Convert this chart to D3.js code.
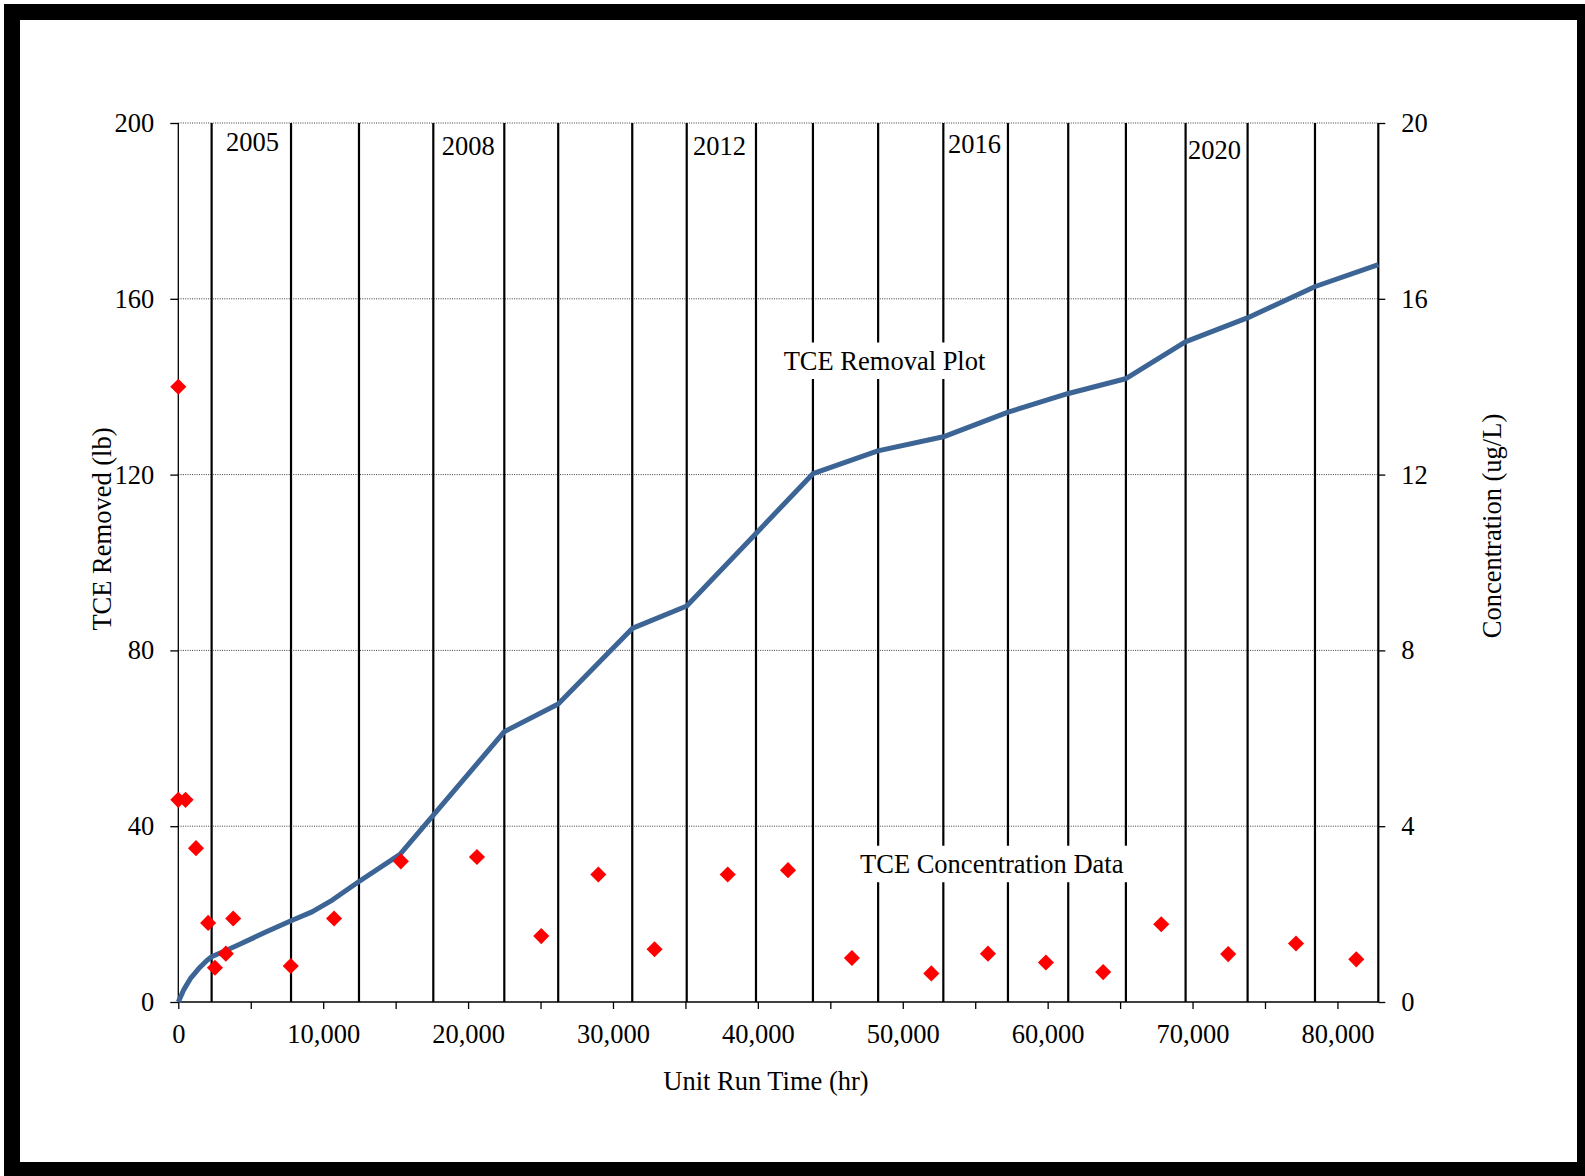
<!DOCTYPE html>
<html>
<head>
<meta charset="utf-8">
<script src="https://cdn.jsdelivr.net/npm/d3@7"></script>
<style>
  html, body { margin: 0; padding: 0; background: #ffffff; }
  svg { display: block; }
  text { font-family: "Liberation Serif", "Times New Roman", serif; fill: #000; }
</style>
</head>
<body>
<svg id="chart" width="1585" height="1176"></svg>
<script>
// Cumulative TCE removed (lb) against unit run time (hr)
const runHours = [0, 360, 830, 1410, 1990, 2300, 3280, 4090, 5960, 7780, 9230, 10630, 12420,
  15300, 22500, 26220, 31330, 35090, 43800, 48280, 52800, 57270, 61370, 65370, 69500, 73820, 78470, 82820];
const tceRemoved = [0, 2.7, 5.3, 7.6, 9.5, 10.3, 11.7, 12.9, 15.8, 18.5, 20.5, 23.2, 27.3,
  33.6, 61.5, 67.8, 85.0, 90.1, 120.2, 125.4, 128.6, 134.2, 138.4, 141.8, 150.2, 155.7, 162.8, 167.8];

// TCE concentration samples (ug/L)
const sampleHours = [0, 0, 500, 1220, 2060, 2530, 3280, 3790, 7760, 10750, 15360, 20610, 25050,
  28990, 32870, 37920, 42080, 46490, 51970, 55880, 59880, 63830, 67840, 72460, 77140, 81300];
const tceConc = [14.0, 4.6, 4.6, 3.5, 1.8, 0.78, 1.1, 1.9, 0.82, 1.9, 3.2, 3.3, 1.5,
  2.9, 1.2, 2.9, 3.0, 1.0, 0.65, 1.1, 0.9, 0.68, 1.77, 1.09, 1.33, 0.97];

// Run-time markers drawn as vertical dividers
const dividerHours = [2300, 7780, 12470, 17600, 22500, 26220, 31330, 35090, 39870, 43800,
  48300, 52800, 57260, 61420, 65400, 69520, 73800, 78450];

// Axis ticks
const leftTicks = [0, 40, 80, 120, 160, 200];
const rightTicks = [0, 4, 8, 12, 16, 20];
const xTicks = d3.range(0, 80001, 5000);
const xLabelStep = 10000;

// Year annotations (hours, lb)
const yearLabels = ["2005", "2008", "2012", "2016", "2020"];
const yearHours = [3290, 18180, 35520, 53120, 69680];
const yearLevel = [193.7, 192.7, 192.7, 193.2, 191.9];

// Series annotations (hours, lb)
const noteLabels = ["TCE Removal Plot", "TCE Concentration Data"];
const noteHours = [41780, 47050];
const noteLevel = [143.8, 29.3];

const axisTitles = { x: "Unit Run Time (hr)", left: "TCE Removed (lb)", right: "Concentration (ug/L)" };

const FONT = 26.5;
const svg = d3.select("#chart");

// Frame
svg.append("rect").attr("x", 0).attr("y", 0).attr("width", 1585).attr("height", 1176).attr("fill", "#fff");
svg.append("rect").attr("x", 12).attr("y", 12).attr("width", 1573).attr("height", 1158)
  .attr("fill", "none").attr("stroke", "#000").attr("stroke-width", 16);

const plot = { left: 178.3, right: 1378.3, top: 123, bottom: 1002 };

const x = d3.scaleLinear().domain([0, 82820]).range([plot.left, plot.right]);
const yL = d3.scaleLinear().domain([0, 200]).range([plot.bottom, plot.top]);
const yR = d3.scaleLinear().domain([0, 20]).range([plot.bottom, plot.top]);

// Dotted horizontal gridlines
svg.append("g").selectAll("line").data(leftTicks.filter(d => d > 0)).join("line")
  .attr("x1", plot.left).attr("x2", plot.right)
  .attr("y1", d => yL(d)).attr("y2", d => yL(d))
  .attr("stroke", "#3a3a3a").attr("stroke-width", 1).attr("stroke-dasharray", "1,1.3");

// Vertical dividers
svg.append("g").selectAll("line").data(dividerHours).join("line")
  .attr("x1", d => x(d)).attr("x2", d => x(d))
  .attr("y1", plot.top).attr("y2", plot.bottom)
  .attr("stroke", "#000").attr("stroke-width", 2.2);

// Axes
const axisLeft = d3.axisLeft(yL).tickValues(leftTicks).tickSize(8).tickPadding(16).tickFormat(d3.format("d"));
const gL = svg.append("g").attr("transform", `translate(${plot.left},0)`).call(axisLeft);

const axisRight = d3.axisRight(yR).tickValues(rightTicks).tickSize(7).tickPadding(16).tickFormat(d3.format("d"));
const gR = svg.append("g").attr("transform", `translate(${plot.right},0)`).call(axisRight);

const axisBottom = d3.axisBottom(x).tickValues(xTicks).tickSize(7)
  .tickFormat(d => d % xLabelStep === 0 ? d3.format(",")(d) : "");
const gB = svg.append("g").attr("transform", `translate(0,${plot.bottom})`).call(axisBottom);

[gL, gR, gB].forEach(g => {
  g.selectAll("text").style("font-family", '"Liberation Serif", "Times New Roman", serif')
    .style("font-size", FONT + "px").attr("fill", "#000");
  g.selectAll("line").attr("stroke", "#000").attr("stroke-width", 1.3);
  g.select(".domain").remove();
});
gB.selectAll("text").attr("dy", null).attr("y", 41);

// Axis lines
svg.append("line").attr("x1", plot.left).attr("x2", plot.left).attr("y1", plot.top).attr("y2", plot.bottom)
  .attr("stroke", "#000").attr("stroke-width", 1.3);
svg.append("line").attr("x1", plot.right).attr("x2", plot.right).attr("y1", plot.top).attr("y2", plot.bottom)
  .attr("stroke", "#000").attr("stroke-width", 2.2);
svg.append("line").attr("x1", plot.left).attr("x2", plot.right).attr("y1", plot.bottom).attr("y2", plot.bottom)
  .attr("stroke", "#000").attr("stroke-width", 1.6);

// Year labels
svg.append("g").selectAll("text").data(yearLabels).join("text")
  .attr("x", (d, i) => x(yearHours[i])).attr("y", (d, i) => yL(yearLevel[i]))
  .style("font-size", FONT + "px").text(d => d);

// Removal curve
const line = d3.line().x((d, i) => x(runHours[i])).y((d, i) => yL(d)).curve(d3.curveLinear);
svg.append("path").datum(tceRemoved).attr("d", line)
  .attr("fill", "none").attr("stroke", "#3c6495").attr("stroke-width", 5)
  .attr("stroke-linejoin", "round").attr("stroke-linecap", "butt");

// Concentration diamonds
const diamond = d3.symbol(d3.symbolSquare, 130);
svg.append("g").selectAll("path").data(tceConc).join("path")
  .attr("d", diamond)
  .attr("transform", (d, i) => `translate(${x(sampleHours[i])},${yR(d)}) rotate(45)`)
  .attr("fill", "#ff0000");

// Series notes with white backing boxes
noteLabels.forEach((label, i) => {
  const g = svg.append("g");
  const t = g.append("text").attr("x", x(noteHours[i])).attr("y", yL(noteLevel[i]))
    .style("font-size", FONT + "px").text(label);
  const bb = t.node().getBBox();
  g.insert("rect", "text")
    .attr("x", bb.x - 7).attr("y", yL(noteLevel[i]) - 27.5)
    .attr("width", bb.width + 14).attr("height", 36.5)
    .attr("fill", "#fff");
});

// Axis titles
svg.append("text").attr("x", 766).attr("y", 1090).attr("text-anchor", "middle")
  .style("font-size", FONT + "px").text(axisTitles.x);
svg.append("text").attr("transform", "translate(111,529) rotate(-90)").attr("text-anchor", "middle")
  .style("font-size", FONT + "px").text(axisTitles.left);
svg.append("text").attr("transform", "translate(1501,526) rotate(-90)").attr("text-anchor", "middle")
  .style("font-size", FONT + "px").text(axisTitles.right);
</script>
</body>
</html>
